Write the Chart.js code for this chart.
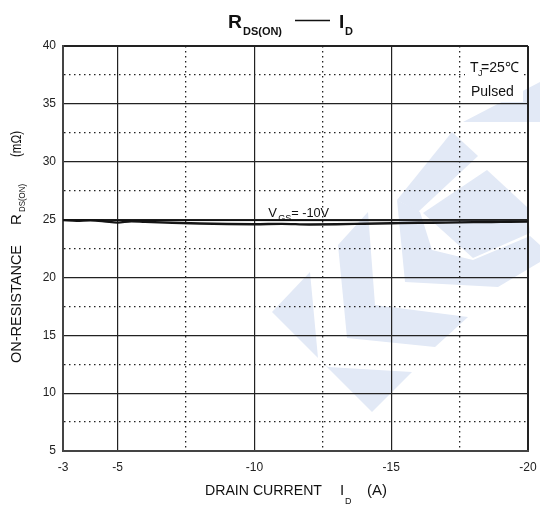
<!DOCTYPE html>
<html>
<head>
<meta charset="utf-8">
<script src="https://cdn.jsdelivr.net/npm/chart.js@4/dist/chart.umd.min.js"></script>
<style>
  html, body { margin: 0; padding: 0; background: #fff; }
  #wrap { width: 540px; height: 512px; }
</style>
</head>
<body>
<div id="wrap"><canvas id="rdsChart" width="540" height="512"></canvas></div>
<script>
// drain current (A) and on-resistance (mOhm)
const currentVals = [-3, -3.5, -4, -4.5, -5, -5.5, -6, -7, -8, -9, -10, -11, -12, -13, -14, -15, -16, -17, -18, -19, -20];
const rdsVals = [24.95, 24.9, 24.93, 24.86, 24.74, 24.86, 24.8, 24.72, 24.66, 24.62, 24.6, 24.63, 24.58, 24.6, 24.64, 24.68, 24.72, 24.74, 24.78, 24.8, 24.82];
const refCurrent = [-3, -5, -20];
const refRds = [24.98, 24.93, 24.9];

const xTicks = [-20, -17.5, -15, -12.5, -10, -7.5, -5, -3];
const xLabels = [-3, -5, -10, -15, -20];
const yTicks = [5, 7.5, 10, 12.5, 15, 17.5, 20, 22.5, 25, 27.5, 30, 32.5, 35, 37.5, 40];

const FONT = '"Liberation Sans", Arial, sans-serif';

// light blue logo in the background
const watermark = [
    [[310, 272], [318, 358], [328, 367], [412, 372], [372, 412], [272, 312]],
    [[338, 245], [368, 212], [375, 305], [468, 317], [435, 347], [347, 338]],
    [[452, 132], [478, 156], [418, 212], [397, 200]],
    [[487, 170], [527, 207], [530, 233], [473, 258], [423, 213]],
    [[397, 200], [420, 212], [432, 250], [473, 260], [530, 236], [540, 245], [540, 262], [498, 287], [405, 282]],
    [[463, 122], [540, 82], [540, 122]]
];

// text squeezed or stretched to a given width (width 0 = natural)
function drawFit(ctx, text, x, y, size, width, bold) {
    ctx.font = (bold ? 'bold ' : '') + size + 'px ' + FONT;
    const natural = ctx.measureText(text).width;
    ctx.save();
    ctx.translate(x, y);
    ctx.scale(width ? width / natural : 1, 1);
    ctx.fillText(text, 0, 0);
    ctx.restore();
}

const decor = {
    id: 'decor',
    beforeDraw(chart) {
        const ctx = chart.ctx;
        ctx.save();
        ctx.fillStyle = '#fff';
        ctx.fillRect(0, 0, chart.width, chart.height);
        ctx.fillStyle = '#e2e9f6';
        watermark.forEach(poly => {
            ctx.beginPath();
            poly.forEach((p, i) => i ? ctx.lineTo(p[0], p[1]) : ctx.moveTo(p[0], p[1]));
            ctx.closePath();
            ctx.fill();
        });
        ctx.restore();
    },
    afterDatasetsDraw(chart) {
        const ctx = chart.ctx;
        const xs = chart.scales.x, ys = chart.scales.y;
        ctx.save();
        ctx.fillStyle = '#111';
        ctx.textBaseline = 'alphabetic';
        ctx.textAlign = 'left';

        // chart title
        drawFit(ctx, 'R', 228, 28, 19, 14, true);
        drawFit(ctx, 'DS(ON)', 243, 35, 11, 39, true);
        ctx.strokeStyle = '#111';
        ctx.lineWidth = 1.5;
        ctx.beginPath();
        ctx.moveTo(295, 20.5);
        ctx.lineTo(330, 20.5);
        ctx.stroke();
        drawFit(ctx, 'I', 339, 28, 19, 0, true);
        drawFit(ctx, 'D', 345, 35, 11, 0, true);

        // curve label
        const lx = xs.getPixelForValue(-10.5), ly = ys.getPixelForValue(25.25);
        drawFit(ctx, 'V', lx, ly, 13, 0);
        drawFit(ctx, 'GS', lx + 10, ly + 4, 9, 0);
        drawFit(ctx, '= -10V', lx + 23, ly, 13, 38);

        // condition box
        ctx.fillStyle = '#fff';
        ctx.fillRect(465, 56, 58, 46);
        ctx.fillStyle = '#111';
        drawFit(ctx, 'T', 470, 72, 14, 0);
        drawFit(ctx, 'J', 478, 76, 9, 0);
        drawFit(ctx, '=25\u2103', 481, 72, 14, 38);
        drawFit(ctx, 'Pulsed', 471, 96, 14, 0);

        // x axis title
        drawFit(ctx, 'DRAIN CURRENT', 205, 495, 15, 117);
        drawFit(ctx, 'I', 340, 495, 15, 0);
        drawFit(ctx, 'D', 345, 504, 9, 0);
        drawFit(ctx, '(A)', 367, 495, 15, 20);

        // y axis title, rotated
        ctx.translate(21, 363);
        ctx.rotate(-Math.PI / 2);
        drawFit(ctx, 'ON-RESISTANCE', 0, 0, 15, 118);
        drawFit(ctx, 'R', 138, 0, 15, 0);
        drawFit(ctx, 'DS(ON)', 151, 4, 9, 28);
        drawFit(ctx, '(m\u03a9)', 206, 0, 14, 26);
        ctx.restore();
    }
};

new Chart(document.getElementById('rdsChart'), {
    type: 'line',
    data: {
        datasets: [{
            data: refCurrent.map((x, i) => ({ x: x, y: refRds[i] })),
            borderColor: '#111',
            borderWidth: 1.2,
            pointRadius: 0,
            tension: 0
        }, {
            data: currentVals.map((x, i) => ({ x: x, y: rdsVals[i] })),
            borderColor: '#151515',
            borderWidth: 2.4,
            pointRadius: 0,
            cubicInterpolationMode: 'monotone'
        }]
    },
    options: {
        responsive: false,
        animation: false,
        events: [],
        layout: { padding: { left: 0, right: 12, top: 46, bottom: 0 } },
        plugins: { legend: { display: false }, tooltip: { enabled: false } },
        scales: {
            x: {
                type: 'linear',
                min: -20,
                max: -3,
                reverse: true,
                afterBuildTicks: s => { s.ticks = xTicks.map(v => ({ value: v })); },
                afterFit: s => { s.height = 61; },
                ticks: {
                    autoSkip: false,
                    maxRotation: 0,
                    padding: 9,
                    color: '#222',
                    font: { family: FONT, size: 12 },
                    callback: v => xLabels.includes(v) ? String(v) : ''
                },
                grid: {
                    drawTicks: false,
                    color: '#222',
                    lineWidth: c => (c.tick && c.tick.value === -20) ? 2 : (xLabels.includes(c.tick && c.tick.value) ? 1.2 : 1.3)
                },
                border: {
                    color: '#444',
                    width: 2,
                    dash: c => (c.tick && !xLabels.includes(c.tick.value)) ? [1.5, 3.5] : []
                }
            },
            y: {
                type: 'linear',
                min: 5,
                max: 40,
                afterBuildTicks: s => { s.ticks = yTicks.map(v => ({ value: v })); },
                afterFit: s => { s.width = 63; },
                ticks: {
                    autoSkip: false,
                    padding: 7,
                    color: '#222',
                    font: { family: FONT, size: 12 },
                    callback: v => v % 5 === 0 ? String(v) : ''
                },
                grid: {
                    drawTicks: false,
                    color: '#222',
                    lineWidth: c => (c.tick && c.tick.value === 40) ? 2 : (c.tick && c.tick.value % 5 === 0 ? 1.2 : 1.3)
                },
                border: {
                    color: '#444',
                    width: 2,
                    dash: c => (c.tick && c.tick.value % 5 !== 0) ? [1.5, 3.5] : []
                }
            }
        }
    },
    plugins: [decor]
});
</script>
</body>
</html>
